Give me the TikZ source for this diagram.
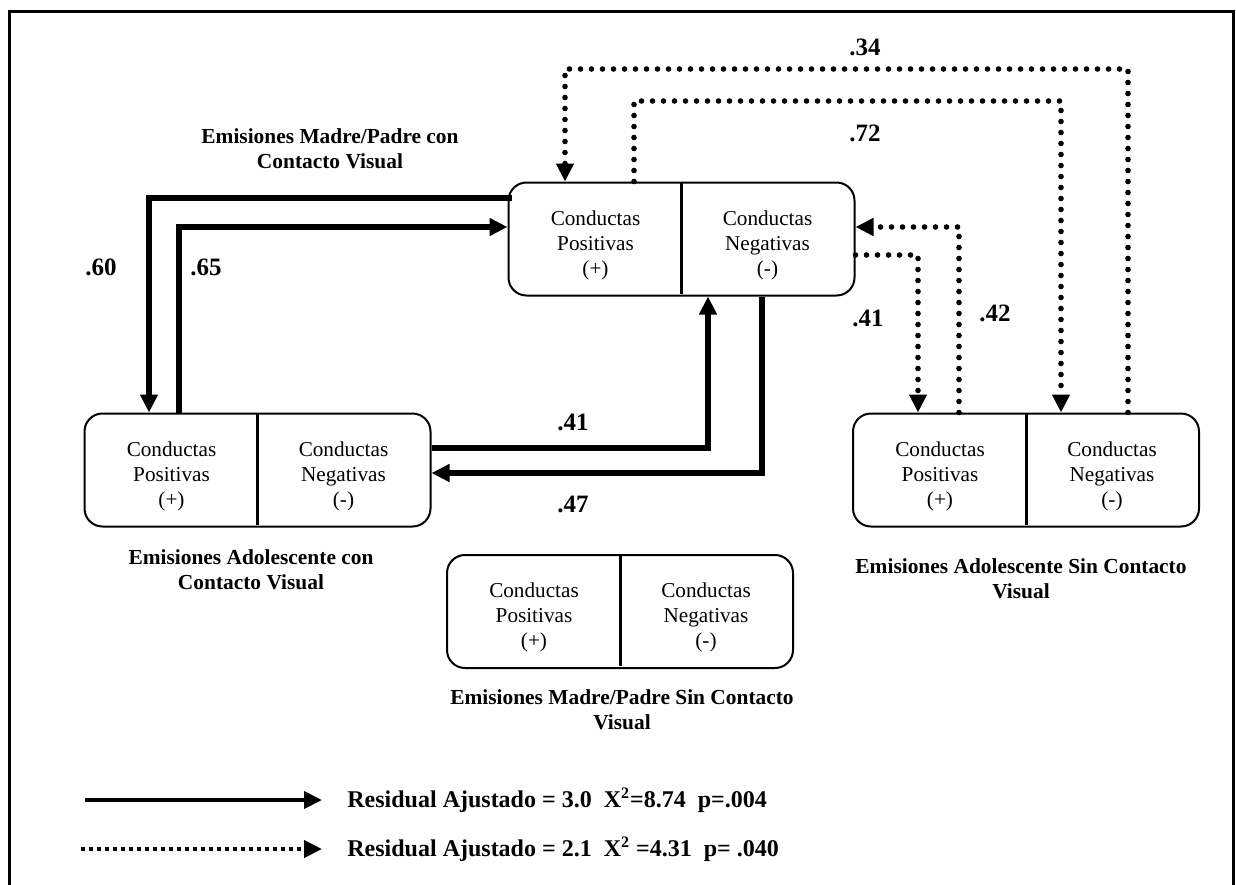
\documentclass[tikz,border=0pt]{standalone}
\usepackage{fontspec}
\setmainfont{Liberation Serif}
\usetikzlibrary{arrows.meta, calc}

\begin{document}
\begin{tikzpicture}[x=0.5pt, y=-0.5pt]
            \tikzset{caja/.style = {draw, rounded corners=9pt, line width=1pt, minimum width=173pt, minimum height=56.5pt}}
            \tikzset{texto/.style = {align=center, inner sep=0pt, font=\fontsize{10.6}{12.5}\selectfont}}
            \tikzset{titulo/.style = {align=center, inner sep=0pt, font=\bfseries\fontsize{10.7}{12.5}\selectfont}}
            \tikzset{valor/.style = {inner sep=0pt, font=\bfseries\fontsize{12.5}{14}\selectfont}}
            \tikzset{divisor/.style = {line width=1.5pt}}
            \tikzset{firme/.style = {line width=2.7pt, -{Triangle[length=9pt,width=8.5pt]}}}
            \tikzset{punteado/.style = {line width=2.8pt, line cap=round, line join=round, dash pattern=on 0pt off 5.5pt, -{Triangle[length=9pt,width=8.5pt]}}}

            \useasboundingbox (0,0) rectangle (1236,884);
            \draw[line width=1.5pt] (9,890) -- (9,11) -- (1233,11) -- (1233,890);

            % cajas
            \node[caja] (pcon) at (681.5,239) {};
            \node[caja] (acon) at (257.5,470) {};
            \node[caja] (asin) at (1026,470) {};
            \node[caja] (psin) at (620,611.5) {};

            \draw[divisor] (pcon.north) -- ([yshift=1.5pt]pcon.south);
            \draw[divisor] (acon.north) -- ([yshift=1.5pt]acon.south);
            \draw[divisor] (asin.north) -- ([yshift=1.5pt]asin.south);
            \draw[divisor] (psin.north) -- ([yshift=1.5pt]psin.south);

            \node[texto] (pcon1) at ([xshift=-43pt,yshift=-3pt]pcon.center) {Conductas\\Positivas\\(+)};
            \node[texto] (pcon2) at ([xshift=43pt,yshift=-3pt]pcon.center) {Conductas\\Negativas\\(-)};
            \node[texto] (acon1) at ([xshift=-43pt,yshift=-3pt]acon.center) {Conductas\\Positivas\\(+)};
            \node[texto] (acon2) at ([xshift=43pt,yshift=-3pt]acon.center) {Conductas\\Negativas\\(-)};
            \node[texto] (asin1) at ([xshift=-43pt,yshift=-3pt]asin.center) {Conductas\\Positivas\\(+)};
            \node[texto] (asin2) at ([xshift=43pt,yshift=-3pt]asin.center) {Conductas\\Negativas\\(-)};
            \node[texto] (psin1) at ([xshift=-43pt,yshift=-3pt]psin.center) {Conductas\\Positivas\\(+)};
            \node[texto] (psin2) at ([xshift=43pt,yshift=-3pt]psin.center) {Conductas\\Negativas\\(-)};

            % titulos
            \node[titulo] (tpcon) at (330,148.5) {Emisiones Madre/Padre con\\Contacto Visual};
            \node[titulo] (tacon) at (251,569.5) {Emisiones Adolescente con\\Contacto Visual};
            \node[titulo] (tasin) at (1021,579) {Emisiones Adolescente Sin Contacto\\Visual};
            \node[titulo] (tpsin) at (622,709.5) {Emisiones Madre/Padre Sin Contacto\\Visual};

            % puntos de quiebre
            \coordinate (p60) at (149,198);
            \coordinate (p65) at (179,227);
            \coordinate (q41) at (708,448);
            \coordinate (q47) at (762,473);
            \coordinate (r34a) at (1128,69);
            \coordinate (r34b) at (565,69);
            \coordinate (r72a) at (634,101);
            \coordinate (r72b) at (1061,101);
            \coordinate (r41) at (918,255);
            \coordinate (r42) at (959,227);

            \draw[firme] ([xshift=2pt]pcon.west |- p60) -- (p60) -- (acon.north -| p60);
            \draw[firme] (acon.north -| p65) -- (p65) -- (pcon.west |- p65);
            \draw[firme] (acon.east |- q41) -- (q41) -- (pcon.south -| q41);
            \draw[firme] (pcon.south -| q47) -- (q47) -- (acon.east |- q47);

            \draw[punteado] (asin.north -| r34a) -- (r34a) -- (r34b) -- (pcon.north -| r34b);
            \draw[punteado] (pcon.north -| r72a) -- (r72a) -- (r72b) -- (asin.north -| r72b);
            \draw[punteado] (pcon.east |- r41) -- (r41) -- (asin.north -| r41);
            \draw[punteado] (asin.north -| r42) -- (r42) -- (pcon.east |- r42);

            % valores
            \node[valor] (v60) at (101,267) {.60};
            \node[valor] (v65) at (206,267) {.65};
            \node[valor] (v41) at (573,422) {.41};
            \node[valor] (v47) at (573,504) {.47};
            \node[valor] (v34) at (865,47) {.34};
            \node[valor] (v72) at (865,133) {.72};
            \node[valor] (w41) at (868,318) {.41};
            \node[valor] (w42) at (995,313) {.42};

            % leyenda
            \node[valor, anchor=west, font=\bfseries\fontsize{12}{14}\selectfont] (ley1) at (347,800) {Residual Ajustado = 3.0~~X\textsuperscript{2}=8.74~~p=.004};
            \node[valor, anchor=west, font=\bfseries\fontsize{12}{14}\selectfont] (ley2) at (347,849) {Residual Ajustado = 2.1~~X\textsuperscript{2} =4.31~~p= .040};
            \coordinate (l1) at (85,800);
            \coordinate (l2) at (81,849);
            \draw[line width=2pt, -{Triangle[length=9pt,width=8.5pt]}] (l1) -- ([xshift=-12.5pt]ley1.west);
            \draw[line width=2pt, dash pattern=on 2pt off 2pt, -{Triangle[length=9pt,width=8.5pt]}] (l2) -- ([xshift=-12.5pt]ley2.west);
\end{tikzpicture}
\end{document}
